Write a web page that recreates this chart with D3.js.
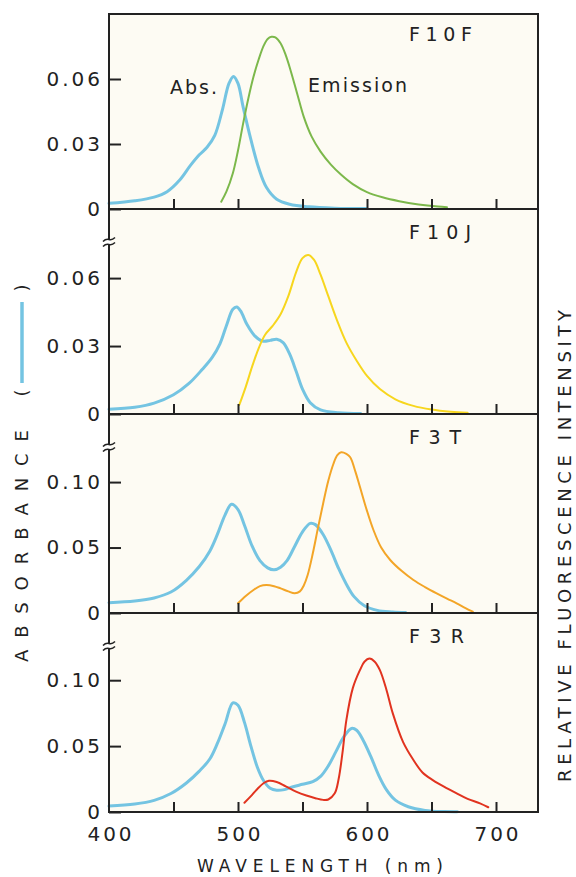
<!DOCTYPE html>
<html>
<head>
<meta charset="utf-8">
<script src="https://cdn.jsdelivr.net/npm/d3@7/dist/d3.min.js"></script>
<style>
  html, body { margin: 0; padding: 0; background: #ffffff; }
  svg { display: block; }
  text { font-family: "DejaVu Sans", sans-serif; fill: #222; }
</style>
</head>
<body>
<svg id="chart" width="576" height="877"></svg>
<script>
// ---------------- DATA ----------------
const panelNames = ["F10F", "F10J", "F3T", "F3R"];
const panelYMax = [0.09, 0.0905, 0.152, 0.151];
const panelTicks = [[0, 0.03, 0.06], [0, 0.03, 0.06], [0, 0.05, 0.10], [0, 0.05, 0.10]];
const panelTickLabels = [["0", "0.03", "0.06"], ["0", "0.03", "0.06"], ["0", "0.05", "0.10"], ["0", "0.05", "0.10"]];
const wavelengthTicks = [450, 500, 550, 600, 650, 700];
const wavelengthLabels = [400, 500, 600, 700];

// F10F
const absF10F_nm  = [400, 420, 435, 445, 455, 463, 470, 476, 482, 488, 493, 496.5, 500, 504, 510, 516, 522, 530, 540, 555, 575, 600];
const absF10F_val = [0.0026, 0.0038, 0.0055, 0.008, 0.0135, 0.02, 0.025, 0.0285, 0.034, 0.046, 0.058, 0.0612, 0.058, 0.047, 0.032, 0.019, 0.01, 0.0045, 0.0022, 0.001, 0.0004, 0.0002];
const emF10F_nm   = [487, 491, 496, 500, 504, 508, 512, 516, 520, 523, 526, 529, 533, 537, 541, 546, 551, 557, 564, 572, 580, 589, 600, 612, 625, 640, 655, 662];
const emF10F_val  = [0.0034, 0.008, 0.0165, 0.027, 0.0395, 0.051, 0.061, 0.069, 0.0755, 0.0785, 0.0795, 0.0792, 0.0765, 0.071, 0.0635, 0.053, 0.0425, 0.0335, 0.0265, 0.0205, 0.0158, 0.0115, 0.0078, 0.0054, 0.0036, 0.0021, 0.0011, 0.0008];

// F10J
const absF10J_nm  = [400, 420, 435, 450, 462, 472, 480, 486, 491, 496, 499, 502, 507, 513, 519, 525, 530, 535, 540, 545, 550, 556, 564, 578, 595];
const absF10J_val = [0.0021, 0.003, 0.0048, 0.0085, 0.0135, 0.0195, 0.025, 0.031, 0.039, 0.0462, 0.0472, 0.0455, 0.0395, 0.0345, 0.0322, 0.0325, 0.033, 0.0315, 0.0265, 0.019, 0.011, 0.005, 0.0018, 0.0005, 0.0002];
const emF10J_nm   = [501, 506, 511, 516, 521, 527, 533, 539, 545, 550, 554.5, 559, 564, 570, 577, 584, 592, 600, 610, 622, 636, 650, 665, 678];
const emF10J_val  = [0.004, 0.012, 0.021, 0.029, 0.035, 0.039, 0.044, 0.052, 0.0625, 0.0688, 0.0702, 0.068, 0.0615, 0.052, 0.041, 0.0315, 0.0235, 0.0168, 0.011, 0.0065, 0.0036, 0.002, 0.001, 0.0005];

// F3T
const absF3T_nm   = [400, 420, 435, 448, 460, 470, 478, 484, 490, 495, 500, 505, 511, 517, 523, 528, 533, 538, 544, 550, 556, 560, 566, 572, 578, 584, 590, 598, 608, 620, 630];
const absF3T_val  = [0.0079, 0.0092, 0.0115, 0.016, 0.025, 0.0355, 0.047, 0.06, 0.075, 0.083, 0.079, 0.067, 0.051, 0.04, 0.0345, 0.033, 0.035, 0.04, 0.051, 0.062, 0.0685, 0.0675, 0.06, 0.048, 0.034, 0.022, 0.0125, 0.0055, 0.002, 0.0008, 0.0003];
const emF3T_nm    = [500, 506, 512, 517, 522, 528, 533, 539, 544, 548, 551, 554, 558, 562, 566, 570, 574, 577, 580, 584, 587, 591, 594.5, 600, 605, 611, 618, 627, 636, 645, 654, 662, 669.5, 676, 682];
const emF3T_val   = [0.0074, 0.013, 0.0176, 0.0205, 0.0214, 0.0205, 0.0188, 0.0165, 0.015, 0.0165, 0.021, 0.029, 0.0456, 0.065, 0.0837, 0.101, 0.114, 0.1205, 0.1227, 0.1215, 0.119, 0.108, 0.0964, 0.078, 0.0634, 0.05, 0.0405, 0.032, 0.0252, 0.0198, 0.015, 0.011, 0.0074, 0.004, 0.001];

// F3R
const absF3R_nm   = [400, 420, 435, 448, 460, 470, 478, 484, 490, 496, 500, 505, 510, 515, 520, 525, 530, 536, 542, 550, 558, 564, 570, 576, 582, 588, 592, 597, 603, 609, 615, 622, 632, 645, 660, 670];
const absF3R_val  = [0.0045, 0.006, 0.0088, 0.014, 0.022, 0.031, 0.04, 0.052, 0.067, 0.0828, 0.081, 0.068, 0.05, 0.034, 0.0235, 0.018, 0.0165, 0.017, 0.019, 0.021, 0.023, 0.027, 0.035, 0.046, 0.057, 0.0634, 0.062, 0.0545, 0.042, 0.028, 0.017, 0.009, 0.004, 0.0012, 0.0003, 0.0002];
const emF3R_nm    = [505, 510, 515, 520, 524, 530, 537, 545, 553, 560, 566, 570, 575, 578, 581, 584, 589, 594.5, 598, 602, 606, 610, 615, 620, 628, 636, 643, 651, 660, 669.5, 678, 687.6, 694];
const emF3R_val   = [0.007, 0.012, 0.0175, 0.022, 0.0237, 0.0228, 0.0195, 0.0155, 0.0125, 0.0105, 0.0092, 0.0095, 0.0142, 0.025, 0.045, 0.0697, 0.094, 0.1076, 0.114, 0.1164, 0.114, 0.1076, 0.093, 0.0748, 0.053, 0.0394, 0.03, 0.0242, 0.019, 0.0142, 0.01, 0.0066, 0.0036];

const absSeries = [[absF10F_nm, absF10F_val], [absF10J_nm, absF10J_val], [absF3T_nm, absF3T_val], [absF3R_nm, absF3R_val]];
const emSeries  = [[emF10F_nm, emF10F_val], [emF10J_nm, emF10J_val], [emF3T_nm, emF3T_val], [emF3R_nm, emF3R_val]];

// ---------------- STYLE / LAYOUT ----------------
const absColor = "#74c4e2";
const emColors = ["#7cb84b", "#f7d61e", "#f3a527", "#e1331f"];
const plotBg = "#fdfbf3";
const ink = "#222";

const plotLeft = 109, plotRight = 538;
const panelTops = [14, 209, 414, 613];
const panelBottoms = [209, 414, 613, 812];
const nameWidths = [63, 62, 52, 55];

const svg = d3.select("#chart");

const x = d3.scaleLinear().domain([400, 700]).range([plotLeft, 496]);

svg.append("rect").attr("x", plotLeft).attr("y", panelTops[0])
  .attr("width", plotRight - plotLeft).attr("height", panelBottoms[3] - panelTops[0])
  .attr("fill", plotBg);

const line = d3.line().curve(d3.curveCatmullRom.alpha(0.5));

panelNames.forEach((name, i) => {
  const y = d3.scaleLinear().domain([0, panelYMax[i]]).range([panelBottoms[i], panelTops[i]]);
  const g = svg.append("g");

  // absorbance curve
  const [anm, aval] = absSeries[i];
  g.append("path")
    .attr("d", line(anm.map((d, k) => [x(d), y(aval[k])])))
    .attr("fill", "none").attr("stroke", absColor).attr("stroke-width", 3)
    .attr("stroke-linejoin", "round").attr("stroke-linecap", "round");

  // emission curve
  const [enm, evl] = emSeries[i];
  g.append("path")
    .attr("d", line(enm.map((d, k) => [x(d), y(evl[k])])))
    .attr("fill", "none").attr("stroke", emColors[i]).attr("stroke-width", 2)
    .attr("stroke-linejoin", "round").attr("stroke-linecap", "round");

  // inner x ticks
  const xa = g.append("g").attr("transform", `translate(0,${panelBottoms[i]})`)
    .call(d3.axisBottom(x).tickValues(wavelengthTicks).tickSize(-10).tickFormat(""));
  xa.select(".domain").remove();
  xa.selectAll(".tick line").attr("stroke", ink).attr("stroke-width", 2);

  // y axis
  const ya = g.append("g").attr("transform", `translate(${plotLeft},0)`)
    .call(d3.axisLeft(y).tickValues(panelTicks[i]).tickSize(-12).tickPadding(6)
      .tickFormat((d, k) => panelTickLabels[i][k]));
  ya.select(".domain").remove();
  ya.selectAll(".tick line").attr("stroke", ink).attr("stroke-width", 2);
  ya.selectAll(".tick text").attr("font-size", 20).attr("letter-spacing", 3)
    .attr("fill", ink).attr("font-family", "DejaVu Sans, sans-serif");

  // panel name
  g.append("text").attr("x", 409).attr("y", panelTops[i] + (i === 0 ? 20 : 23) + 7)
    .attr("font-size", 19)
    .attr("textLength", nameWidths[i]).attr("lengthAdjust", "spacing").text(name);
});

// frame
svg.append("rect").attr("x", plotLeft).attr("y", panelTops[0])
  .attr("width", plotRight - plotLeft).attr("height", panelBottoms[3] - panelTops[0])
  .attr("fill", "none").attr("stroke", ink).attr("stroke-width", 2);
panelBottoms.slice(0, 3).forEach(b => {
  svg.append("line").attr("x1", plotLeft).attr("x2", plotRight).attr("y1", b).attr("y2", b)
    .attr("stroke", ink).attr("stroke-width", 2);
});

// axis breaks
[1, 2, 3].forEach(i => {
  const yb = panelTops[i] + 33;
  svg.append("rect").attr("x", plotLeft - 2).attr("y", yb - 2.5).attr("width", 4).attr("height", 5).attr("fill", "#fff");
  [-2.5, 2.5].forEach(o => {
    svg.append("path")
      .attr("d", `M${plotLeft - 6},${yb + o + 2} q3,-3 6,-2 t6,-2`)
      .attr("fill", "none").attr("stroke", ink).attr("stroke-width", 1.6);
  });
});

// bottom tick labels
const xb = svg.append("g").attr("transform", `translate(1.5,${panelBottoms[3]})`)
  .call(d3.axisBottom(x).tickValues(wavelengthLabels).tickSize(0).tickPadding(15));
xb.select(".domain").remove();
xb.selectAll(".tick text").attr("font-size", 20).attr("letter-spacing", 3).attr("fill", ink)
  .attr("font-family", "DejaVu Sans, sans-serif");

// annotations
svg.append("text").attr("x", 170).attr("y", 94).attr("font-size", 19)
  .attr("textLength", 47).attr("lengthAdjust", "spacing").text("Abs.");
svg.append("text").attr("x", 308).attr("y", 92).attr("font-size", 19)
  .attr("textLength", 99).attr("lengthAdjust", "spacing").text("Emission");

// x axis title
svg.append("text").attr("x", 197).attr("y", 872).attr("font-size", 17)
  .attr("textLength", 246).attr("lengthAdjust", "spacing").text("WAVELENGTH (nm)");

// left axis title
const lt = svg.append("g").attr("transform", "translate(22,0) rotate(-90)");
lt.append("text").attr("x", -662).attr("y", 0).attr("dy", "0.36em").attr("font-size", 18)
  .attr("textLength", 232).attr("lengthAdjust", "spacing").text("ABSORBANCE");
lt.append("text").attr("x", -393).attr("y", 0).attr("dy", "0.36em").attr("font-size", 18)
  .attr("text-anchor", "middle").text("(");
lt.append("text").attr("x", -288).attr("y", 0).attr("dy", "0.36em").attr("font-size", 18)
  .attr("text-anchor", "middle").text(")");
lt.append("line").attr("x1", -383).attr("x2", -302).attr("y1", 0).attr("y2", 0)
  .attr("stroke", absColor).attr("stroke-width", 3.5);

// right axis title
svg.append("g").attr("transform", "translate(565,0) rotate(-90)")
  .append("text").attr("x", -782).attr("y", 0).attr("dy", "0.36em").attr("font-size", 18)
  .attr("textLength", 472).attr("lengthAdjust", "spacing").text("RELATIVE FLUORESCENCE INTENSITY");
</script>
</body>
</html>
